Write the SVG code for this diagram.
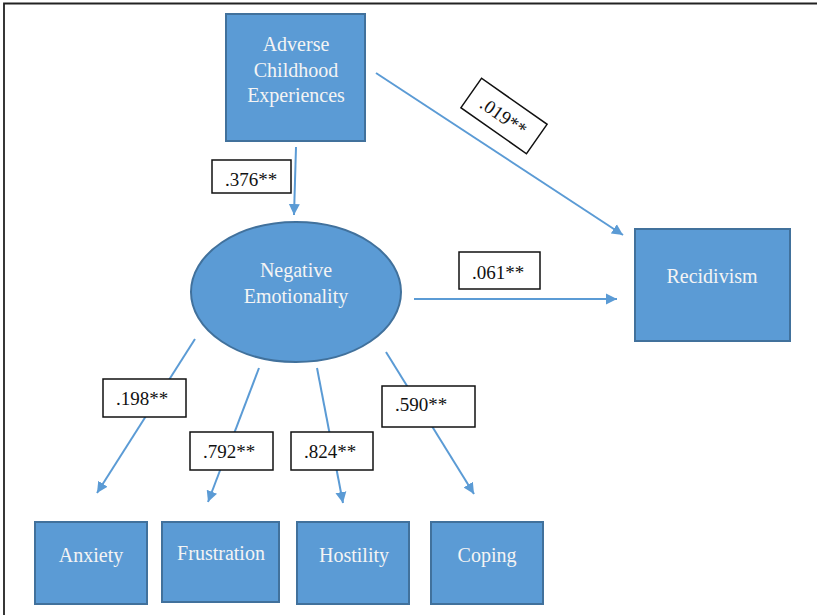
<svg xmlns="http://www.w3.org/2000/svg" width="817" height="615" viewBox="0 0 817 615">
<defs>
<marker id="ah" markerUnits="userSpaceOnUse" markerWidth="12" markerHeight="12" viewBox="0 0 12 12" refX="11" refY="6" orient="auto">
<path d="M0,0.5 L11,6 L0,11.5 Z" fill="#5B9BD5"/>
</marker>
<style>
.node{fill:#5B9BD5;stroke:#41719C;stroke-width:2}
.nt{font-family:'Liberation Serif','DejaVu Serif',serif;font-size:20px;fill:#F4F4F4;text-anchor:middle}
.con{stroke:#5B9BD5;stroke-width:2;fill:none;marker-end:url(#ah)}
.lb{fill:#FFFFFF;stroke:#111;stroke-width:1.5}
.lt{font-family:'Liberation Serif','DejaVu Serif',serif;font-size:19px;fill:#111}
</style>
</defs>
<rect width="817" height="615" fill="#FFFFFF"/>
<path d="M4,615 V3.5 H817" fill="none" stroke="#222" stroke-width="1.8"/>

<g id="connectors">
<line class="con" x1="296" y1="147" x2="294" y2="215"/>
<line class="con" x1="376" y1="73" x2="623" y2="235"/>
<line class="con" x1="414" y1="299" x2="617" y2="299"/>
<line class="con" x1="195" y1="339" x2="97" y2="493"/>
<line class="con" x1="259" y1="368" x2="208" y2="502"/>
<line class="con" x1="317" y1="368" x2="343" y2="503"/>
<line class="con" x1="386" y1="352" x2="474" y2="494"/>
</g>

<g id="labels">
<g id="l376"><rect class="lb" x="212" y="160" width="79" height="33"/><text class="lt" x="225" y="186">.376**</text></g>
<g id="l019" transform="translate(504,116) rotate(35)"><rect class="lb" x="-40" y="-18" width="80" height="36"/><text class="lt" x="0" y="7" text-anchor="middle">.019**</text></g>
<g id="l061"><rect class="lb" x="459" y="252" width="81" height="37"/><text class="lt" x="472" y="279">.061**</text></g>
<g id="l198"><rect class="lb" x="103" y="379" width="83" height="38"/><text class="lt" x="116" y="405">.198**</text></g>
<g id="l792"><rect class="lb" x="190" y="432" width="83" height="38"/><text class="lt" x="203" y="458">.792**</text></g>
<g id="l824"><rect class="lb" x="291" y="432" width="82" height="38"/><text class="lt" x="304" y="458">.824**</text></g>
<g id="l590"><rect class="lb" x="382" y="386" width="93" height="41"/><text class="lt" x="395" y="411">.590**</text></g>
</g>

<g id="ace">
<rect class="node" x="226" y="14" width="139" height="127"/>
<text class="nt" x="296" y="51">Adverse</text>
<text class="nt" x="296" y="77">Childhood</text>
<text class="nt" x="296" y="102">Experiences</text>
</g>
<g id="negemo">
<ellipse class="node" cx="296" cy="292" rx="105" ry="70"/>
<text class="nt" x="296" y="277">Negative</text>
<text class="nt" x="296" y="303">Emotionality</text>
</g>
<g id="recidivism">
<rect class="node" x="635" y="229" width="155" height="112"/>
<text class="nt" x="712" y="283">Recidivism</text>
</g>
<g id="anxiety">
<rect class="node" x="35" y="522" width="112" height="82"/>
<text class="nt" x="91" y="562">Anxiety</text>
</g>
<g id="frustration">
<rect class="node" x="162" y="522" width="117" height="80"/>
<text class="nt" x="221" y="560">Frustration</text>
</g>
<g id="hostility">
<rect class="node" x="297" y="522" width="112" height="82"/>
<text class="nt" x="354" y="562">Hostility</text>
</g>
<g id="coping">
<rect class="node" x="431" y="522" width="112" height="82"/>
<text class="nt" x="487" y="562">Coping</text>
</g>
</svg>
